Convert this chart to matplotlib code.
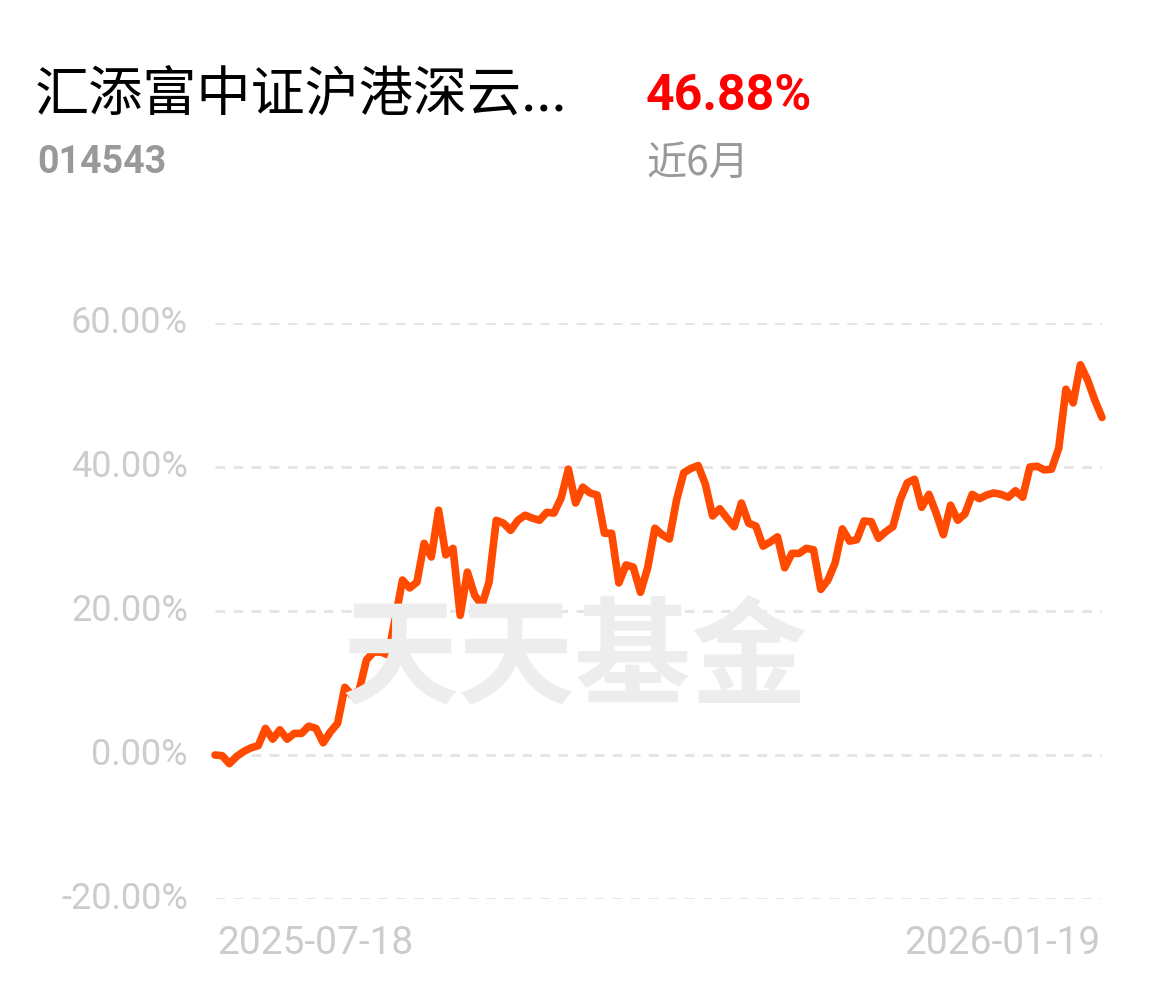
import matplotlib
matplotlib.use("Agg")
import matplotlib.pyplot as plt

# cumulative return (%) over the last 6 months
returns = [
    0.0, -0.1, -1.2, -0.2, 0.5, 1.0, 1.3, 3.7, 2.2, 3.5,
    2.2, 3.0, 3.0, 4.0, 3.7, 1.7, 3.2, 4.4, 9.4, 8.3,
    9.0, 13.2, 14.3, 14.3, 13.9, 19.0, 24.3, 23.2, 24.0, 29.4,
    27.5, 34.0, 27.8, 28.7, 19.4, 25.4, 22.2, 20.8, 24.0, 32.6,
    32.2, 31.2, 32.6, 33.3, 32.9, 32.6, 33.7, 33.6, 35.7, 39.7,
    35.0, 37.2, 36.4, 36.1, 30.8, 30.8, 23.9, 26.4, 26.1, 22.6,
    26.0, 31.5, 30.6, 30.0, 35.4, 39.2, 39.8, 40.2, 37.6, 33.2,
    34.2, 32.9, 31.7, 35.0, 32.2, 31.8, 29.0, 29.6, 30.3, 26.0,
    28.0, 28.0, 28.7, 28.5, 23.0, 24.3, 26.7, 31.4, 29.7, 29.9,
    32.5, 32.4, 30.1, 31.0, 31.7, 35.4, 37.8, 38.3, 34.4, 36.2,
    33.6, 30.6, 34.7, 32.6, 33.5, 36.2, 35.6, 36.1, 36.4, 36.2,
    35.8, 36.7, 35.8, 40.0, 40.1, 39.6, 39.7, 42.6, 50.8, 48.9,
    54.2, 52.1, 49.3, 46.88,
]
y_ticks = [-20, 0, 20, 40, 60]
start_date = "2025-07-18"
end_date = "2026-01-19"
fund_name = "汇添富中证沪港深云..."
fund_code = "014543"
period_label = "近6月"
period_return = "46.88%"

W, H = 1154, 986
fig = plt.figure(figsize=(W / 100, H / 100), dpi=100)
fig.patch.set_facecolor("white")

ax_left, ax_right = 215 / W, 1102 / W
ax_bottom, ax_top = (H - 899) / H, (H - 323) / H
ax = fig.add_axes([ax_left, ax_bottom, ax_right - ax_left, ax_top - ax_bottom])
ax.set_xlim(0, len(returns) - 1)
ax.set_ylim(y_ticks[0], y_ticks[-1])
ax.axis("off")

cjk = ["Noto Sans CJK SC", "DejaVu Sans"]
num = ["Roboto", "Noto Sans CJK SC"]

# watermark
fig.text(575 / W, 1 - 660 / H, "天天基金", family=cjk, fontsize=84,
         fontweight="bold", color="#ededed", ha="center", va="center", zorder=0)

for t in y_ticks:
    ax.axhline(t, color="#e3e3e3", lw=2, ls=(0, (3.5, 3)), zorder=1)
    ax.text(-27 / 887 * (len(returns) - 1), t, f"{t:.2f}%", family=num,
            fontsize=26, color="#cccccc", ha="right", va="center")

ax.plot(range(len(returns)), returns, color="#ff4a00", lw=5.5,
        solid_joinstyle="round", solid_capstyle="round", clip_on=False, zorder=3)

fig.text(217 / W, 1 - 944 / H, start_date, family=num, fontsize=28,
         color="#cccccc", ha="left", va="center")
fig.text(1101 / W, 1 - 944 / H, end_date, family=num, fontsize=28,
         color="#cccccc", ha="right", va="center")

# header
fig.text(35 / W, 1 - 96 / H, fund_name, family=cjk, fontsize=39,
         color="black", ha="left", va="center")
fig.text(37 / W, 1 - 162 / H, fund_code, family=num, fontsize=27,
         fontweight="bold", color="#999999", ha="left", va="center")
fig.text(646 / W, 1 - 96 / H, period_return, family=num, fontsize=36,
         fontweight="bold", color="#ff0000", ha="left", va="center")
fig.text(646 / W, 1 - 163 / H, period_label, family=cjk, fontsize=29,
         color="#999999", ha="left", va="center")

fig.savefig("out.png", dpi=100)
